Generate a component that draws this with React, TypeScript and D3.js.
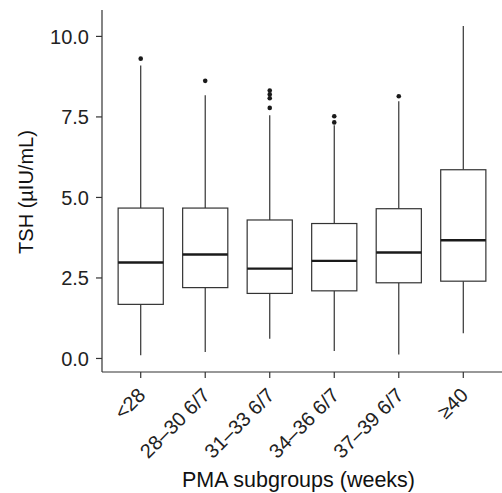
import * as d3 from "d3";

const groups = ["<28", "28–30 6/7", "31–33 6/7", "34–36 6/7", "37–39 6/7", "≥40"];
const lowWhisker = [0.1, 0.2, 0.61, 0.23, 0.12, 0.78];
const q1 = [1.68, 2.2, 2.02, 2.1, 2.35, 2.4];
const median = [2.98, 3.23, 2.79, 3.03, 3.29, 3.67];
const q3 = [4.67, 4.67, 4.3, 4.19, 4.65, 5.86];
const highWhisker = [9.1, 8.17, 7.55, 7.24, 7.99, 10.32];
const outliers = [[9.31], [8.62], [8.32, 8.2, 8.08, 7.78], [7.52, 7.33], [8.14], []];
const yTicks = [0, 2.5, 5, 7.5, 10];

const W = 502;
const H = 493;
const margin = { left: 102, top: 10, right: 0, bottom: 121 };

export default function App() {
  const y = d3
    .scaleLinear()
    .domain([-0.42, 10.82])
    .range([H - margin.bottom, margin.top]);
  const x = d3
    .scaleBand<string>()
    .domain(groups)
    .range([margin.left, W - margin.right])
    .paddingOuter(0.1)
    .paddingInner(0);
  const bw = x.bandwidth() * 0.7;
  const axisColor = "#333";
  const font = "'Liberation Sans', Arial, sans-serif";

  return (
    <svg
      width={W}
      height={H}
      style={{ position: "absolute", left: 0, top: 0, background: "#fff" }}
      fontFamily={font}
    >
      {groups.map((g, i) => {
        const cx = x(g)! + x.bandwidth() / 2;
        return (
          <g key={g}>
            <line x1={cx} x2={cx} y1={y(q3[i])} y2={y(highWhisker[i])} stroke="#333" strokeWidth={1.2} />
            <line x1={cx} x2={cx} y1={y(q1[i])} y2={y(lowWhisker[i])} stroke="#333" strokeWidth={1.2} />
            <rect
              x={cx - bw / 2}
              y={y(q3[i])}
              width={bw}
              height={y(q1[i]) - y(q3[i])}
              fill="#fff"
              stroke="#333"
              strokeWidth={1.2}
            />
            <line x1={cx - bw / 2} x2={cx + bw / 2} y1={y(median[i])} y2={y(median[i])} stroke="#1a1a1a" strokeWidth={2.4} />
            {outliers[i].map((v, j) => (
              <circle key={j} cx={cx} cy={y(v)} r={2.3} fill="#1a1a1a" />
            ))}
          </g>
        );
      })}

      {/* y axis */}
      <line x1={margin.left} x2={margin.left} y1={margin.top} y2={H - margin.bottom} stroke={axisColor} strokeWidth={1.2} />
      {yTicks.map((t) => (
        <g key={t} transform={`translate(${margin.left},${y(t)})`}>
          <line x1={-6} x2={0} stroke={axisColor} strokeWidth={1.2} />
          <text x={-13} dy="0.36em" textAnchor="end" fontSize={20} fill="#222">
            {t.toFixed(1)}
          </text>
        </g>
      ))}

      {/* x axis */}
      <line x1={margin.left} x2={W} y1={H - margin.bottom} y2={H - margin.bottom} stroke={axisColor} strokeWidth={1.2} />
      {groups.map((g) => {
        const cx = x(g)! + x.bandwidth() / 2;
        const y0 = H - margin.bottom;
        return (
          <g key={g}>
            <line x1={cx} x2={cx} y1={y0} y2={y0 + 6} stroke={axisColor} strokeWidth={1.2} />
            <text
              transform={`translate(${cx + 6},${y0 + 24.5}) rotate(-45)`}
              textAnchor="end"
              fontSize={20}
              fill="#222"
            >
              {g}
            </text>
          </g>
        );
      })}

      <text x={298.5} y={487} textAnchor="middle" fontSize={21.5} fill="#111">
        PMA subgroups (weeks)
      </text>
      <text
        transform={`translate(33,192) rotate(-90)`}
        textAnchor="middle"
        fontSize={20}
        fill="#111"
      >
        TSH (µIU/mL)
      </text>
    </svg>
  );
}
